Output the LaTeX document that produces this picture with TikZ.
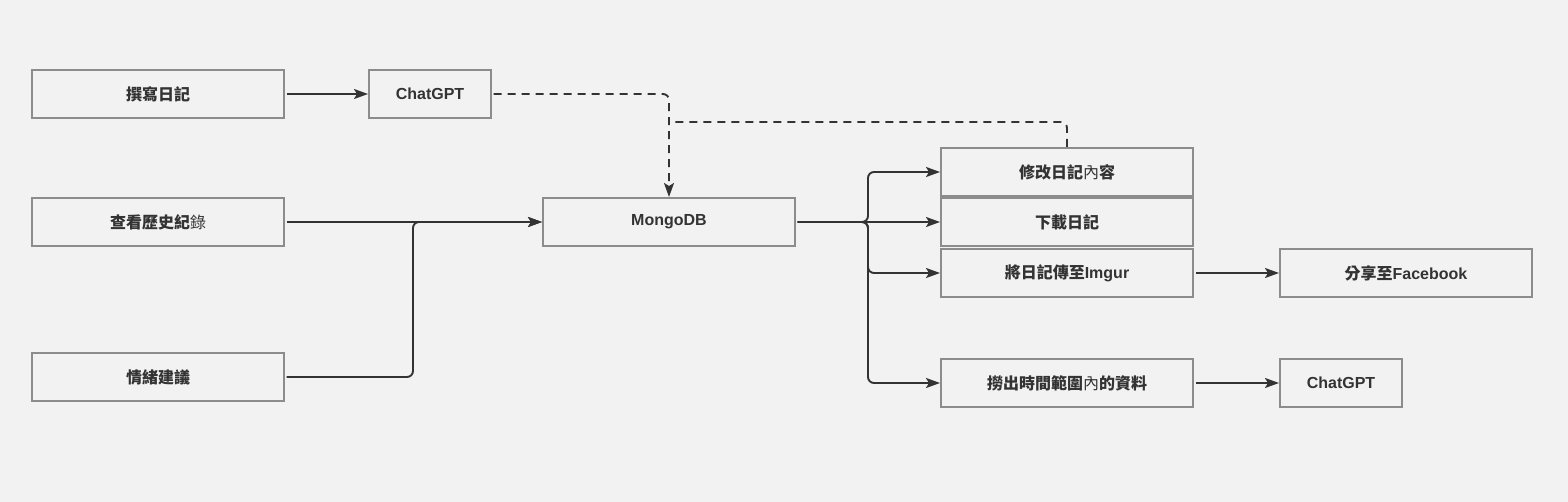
\documentclass[tikz,border=0pt]{standalone}
\usepackage{fontspec}
\setmainfont{Liberation Sans}
\newfontfamily\cjkfont{Noto Sans CJK TC}
\newcommand{\zhb}[1]{{\cjkfont\bfseries #1}}
\newcommand{\zhm}[1]{{\cjkfont\mdseries #1}}
\usetikzlibrary{arrows.meta}
\definecolor{bg}{HTML}{F2F2F2}
\definecolor{bordercol}{HTML}{8C8C8C}
\definecolor{linecol}{HTML}{333333}
\tikzset{
  box/.style={draw=bordercol, line width=2pt, fill=bg, inner sep=0pt,
    minimum height=48pt, text=linecol,
    font=\bfseries\fontsize{16}{19}\selectfont},
  widebox/.style={box, minimum width=252pt},
  narrowbox/.style={box, minimum width=122pt},
  conn/.style={draw=linecol, line width=1.9pt, rounded corners=6pt,
    shorten <=1.5pt, -{Stealth[length=14pt,width=10pt,inset=3pt]}},
  dconn/.style={conn, dash pattern=on 8pt off 6pt},
  plain/.style={draw=linecol, line width=1.9pt, rounded corners=6pt, dash pattern=on 8pt off 6pt},
}
\begin{document}
\begin{tikzpicture}[x=1pt,y=-1pt]
\useasboundingbox (0,0) rectangle (1568,502);
\fill[bg] (0,0) rectangle (1568,502);

\node[widebox] (write) at (158,94) {\zhb{撰寫日記}};
\node[narrowbox] (gptA) at (430,94) {ChatGPT};
\node[widebox] (hist) at (158,222) {\zhb{查看歷史紀}\zhm{錄}};
\node[widebox] (emo) at (158,377) {\zhb{情緒建議}};
\node[widebox] (mongo) at (669,222) {MongoDB};
\node[widebox] (mod) at (1067,172) {\zhb{修改日記}\zhm{內}\zhb{容}};
\node[widebox] (dl) at (1067,222) {\zhb{下載日記}};
\node[widebox] (imgur) at (1067,273) {\zhb{將日記傳至}Imgur};
\node[widebox] (fb) at (1406,273) {\zhb{分享至}Facebook};
\node[widebox] (range) at (1067,383) {\zhb{撈出時間範圍}\zhm{內}\zhb{的資料}};
\node[narrowbox] (gptB) at (1341,383) {ChatGPT};

\coordinate (jn) at (669,122);
\coordinate (bx) at (413,0);
\coordinate (bm) at (868,0);

\draw[conn] (write.east) -- (gptA.west);
\draw[dconn] (gptA.east) -| (mongo.north);
\draw[plain] (mod.north) |- (jn);
\draw[conn] (hist.east) -- (mongo.west);
\draw[conn] (emo.east) -| (bx |- hist.east) -- (mongo.west);
\draw[conn] (mongo.east) -- (bm |- mongo.east) |- (mod.west);
\draw[conn] (mongo.east) -- (dl.west);
\draw[conn] (mongo.east) -- (bm |- mongo.east) |- (imgur.west);
\draw[conn] (mongo.east) -- (bm |- mongo.east) |- (range.west);
\draw[conn] (imgur.east) -- (fb.west);
\draw[conn] (range.east) -- (gptB.west);
\end{tikzpicture}
\end{document}
